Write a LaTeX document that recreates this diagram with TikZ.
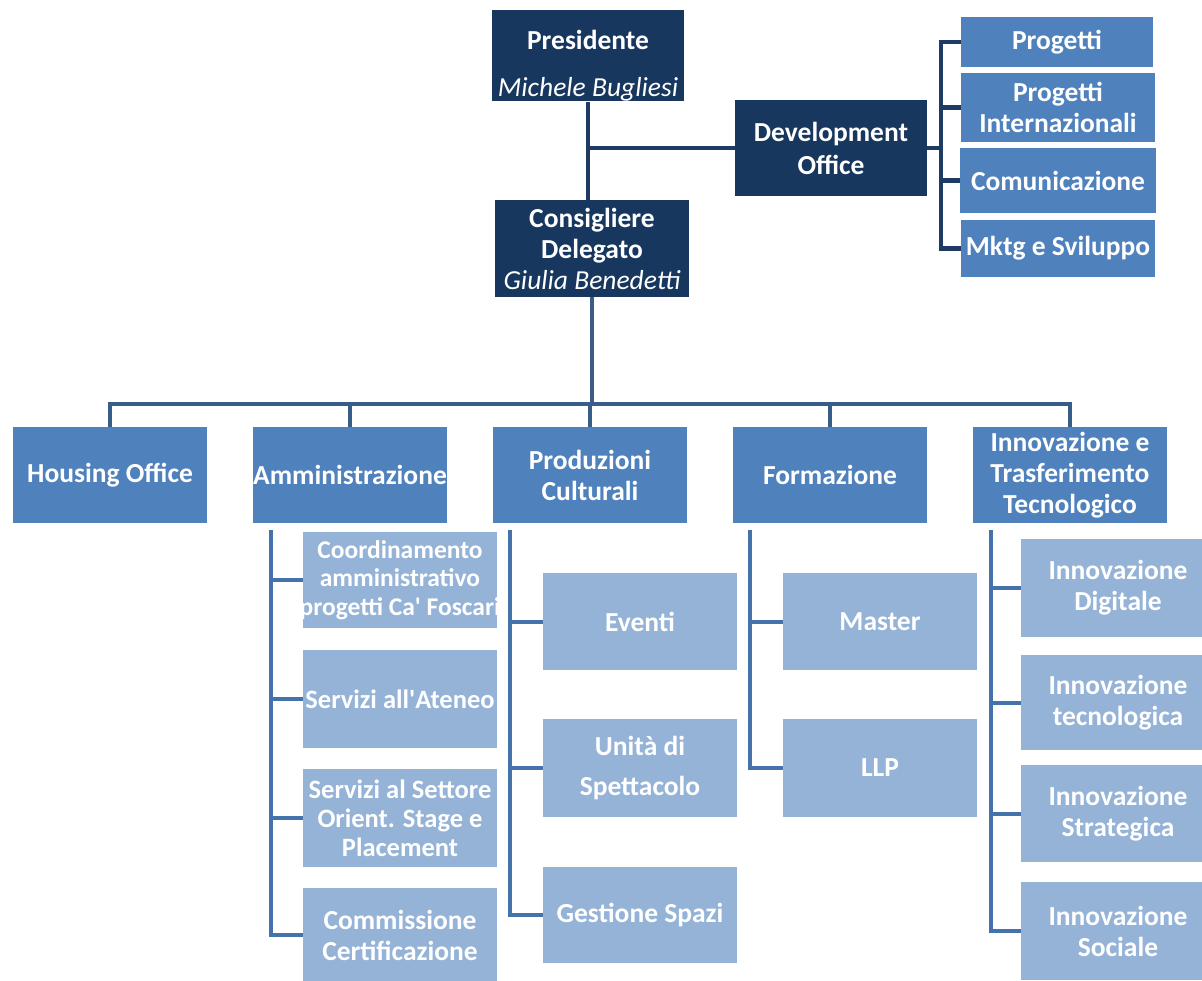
\documentclass[tikz,border=0pt]{standalone}
\usepackage{fontspec}
\setmainfont{Carlito}
\usetikzlibrary{positioning}

\definecolor{navy}{HTML}{17375E}
\definecolor{midblue}{HTML}{4F81BD}
\definecolor{ltblue}{HTML}{95B3D7}
\definecolor{linedark}{HTML}{1F3B63}
\definecolor{linebus}{HTML}{385D8A}
\definecolor{linemid}{HTML}{4472AA}

\tikzset{
	orgbox/.style={rectangle, inner sep=0pt, align=center, text=white, font=\bfseries\fontsize{27.5}{31}\selectfont},
	dkbox/.style={orgbox, fill=navy},
	midbox/.style={orgbox, fill=midblue, minimum width=194, minimum height=96},
	ltbox/.style={orgbox, fill=ltblue, minimum width=194},
	topline/.style={draw=linedark, line width=4.5pt},
	busline/.style={draw=linebus, line width=4pt},
	subline/.style={draw=linemid, line width=4pt}
}

\begin{document}
\begin{tikzpicture}[x=1pt, y=-1pt]
	\useasboundingbox (0,0) rectangle (1202,981);
	\clip (0,0) rectangle (1202,981);
	
	\node [dkbox, minimum width=192, minimum height=87] at (588, 55.5) (pres){\rule{0pt}{40pt}Presidente\\[16pt]{\mdseries\itshape Michele Bugliesi}};
	\node [dkbox, minimum width=194, minimum height=97] at (592, 248.5) (cons){Consigliere\\Delegato\\{\mdseries\itshape Giulia Benedetti}};
	\node [dkbox, minimum width=192, minimum height=96, font=\bfseries\fontsize{27.5}{33}\selectfont] at (831, 148) (dev){Development\\Office};
	
	\node [midbox, minimum width=192, minimum height=50] at (1057, 42) (prog){Progetti};
	\node [midbox, minimum height=69] at (1058, 107.5) (progint){Progetti\\Internazionali};
	\node [midbox, minimum width=196, minimum height=65] at (1058, 180.5) (comu){Comunicazione};
	\node [midbox, minimum height=57] at (1058, 248.5) (mktg){Mktg e Sviluppo};
	
	\node [midbox] at (110, 475) (hous){Housing Office};
	\node [midbox] at (350, 475) (amm){Amministrazione};
	\node [midbox] at (590, 475) (prod){Produzioni\\Culturali};
	\node [midbox] at (830, 475) (form){Formazione};
	\node [midbox] at (1070, 475) (inno){Innovazione e\\Trasferimento\\Tecnologico};
	
	\node [ltbox, minimum height=96, font=\bfseries\fontsize{25.5}{28.5}\selectfont] at (400, 580) (amm1){Coordinamento\\amministrativo\\\makebox[0pt]{progetti Ca\textquotesingle{} Foscari}};
	\node [ltbox, minimum height=98, font=\bfseries\fontsize{26.5}{31}\selectfont] at (400, 699) (amm2){Servizi all\textquotesingle{}Ateneo};
	\node [ltbox, minimum height=98, font=\bfseries\fontsize{26.5}{29}\selectfont] at (400, 818) (amm3){Servizi al Settore\\Orient. Stage e\\Placement};
	\node [ltbox, minimum height=94] at (400, 935) (amm4){Commissione\\Certificazione};
	
	\node [ltbox, minimum height=97] at (640, 621.5) (prod1){Eventi};
	\node [ltbox, minimum height=98, font=\bfseries\fontsize{27.5}{40}\selectfont] at (640, 768) (prod2){Unità di\\Spettacolo};
	\node [ltbox, minimum height=96] at (640, 915) (prod3){Gestione Spazi};
	
	\node [ltbox, minimum height=97] at (880, 621.5) (form1){Master};
	\node [ltbox, minimum height=98] at (880, 768) (form2){LLP};
	
	\node [ltbox, minimum height=98] at (1118, 588) (inno1){Innovazione\\Digitale};
	\node [ltbox, minimum height=95] at (1118, 702.5) (inno2){Innovazione\\tecnologica};
	\node [ltbox, minimum height=97] at (1118, 813.5) (inno3){Innovazione\\Strategica};
	\node [ltbox, minimum height=98] at (1118, 931) (inno4){Innovazione\\Sociale};
	
	\draw [topline] (pres) -- (pres |- cons.north);
	\draw [topline] (pres.south |- dev.west) -- (dev.west);
	\foreach \n in {prog,progint,comu,mktg}{
		\draw [topline] (dev.east) -- ++(14, 0) |- (\n.west);
	}
	
	\draw [busline] (cons.south) -- ++(0, 107) coordinate (bus);
	\foreach \n in {hous,amm,prod,form,inno}{
		\draw [busline] (bus) -| (\n.north);
	}
	
	\foreach \n in {1,...,4}{
		\draw [subline] ([xshift=18, yshift=-7]amm.south west) |- (amm\n.west);
		\draw [subline] ([xshift=18, yshift=-7]inno.south west) |- (inno\n.west);
	}
	\foreach \n in {1,2,3}{
		\draw [subline] ([xshift=17, yshift=-7]prod.south west) |- (prod\n.west);
	}
	\foreach \n in {1,2}{
		\draw [subline] ([xshift=17, yshift=-7]form.south west) |- (form\n.west);
	}
	
\end{tikzpicture}
\end{document}
